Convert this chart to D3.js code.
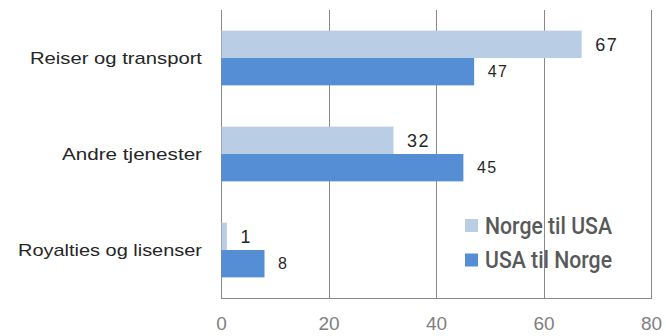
<!DOCTYPE html>
<html><head><meta charset="utf-8">
<script src="https://cdn.jsdelivr.net/npm/d3@7"></script>
<style>body{margin:0;background:#fff}svg{display:block}</style>
</head><body>
<script>
const categories = ["Reiser og transport", "Andre tjenester", "Royalties og lisenser"];
const seriesNames = ["Norge til USA", "USA til Norge"];
const norgeTilUSA = [67, 32, 1];
const usaTilNorge = [47, 45, 8];
const xTicks = [0, 20, 40, 60, 80];

const W = 666, H = 336;
const m = {left: 221, right: 15, top: 10, bottom: 38};
const svg = d3.select("body").append("svg").attr("width", W).attr("height", H);

const x = d3.scaleLinear().domain([0, 80]).range([m.left, W - m.right]);
const y = d3.scaleBand().domain(categories).range([m.top, H - m.bottom]).paddingInner(0.43).paddingOuter(0.215);
const sub = d3.scaleBand().domain(seriesNames).range([0, y.bandwidth()]);
const colors = {"Norge til USA": "#B9CDE5", "USA til Norge": "#558ED5"};
const labelSize = {"Norge til USA": 18, "USA til Norge": 16};

// gridlines
const grid = svg.append("g");
grid.selectAll("line").data(xTicks).join("line")
  .attr("x1", d => Math.round(x(d)) + 0.5).attr("x2", d => Math.round(x(d)) + 0.5)
  .attr("y1", m.top).attr("y2", H - m.bottom)
  .attr("stroke", "#898989").attr("stroke-width", 1);
svg.append("line").attr("x1", x(0)).attr("x2", Math.round(x(80)) + 1)
  .attr("y1", H - m.bottom + 0.5).attr("y2", H - m.bottom + 0.5)
  .attr("stroke", "#898989");

// x axis labels
const xAxis = d3.axisBottom(x).tickValues(xTicks).tickSize(0).tickPadding(0);
const gx = svg.append("g").attr("transform", `translate(0,${H - m.bottom})`).call(xAxis);
gx.select(".domain").remove();
gx.selectAll("text").attr("y", 25).attr("dy", "0.35em")
  .attr("font-family", "Liberation Sans, Arial, sans-serif").attr("font-size", 19)
  .attr("fill", "#7f7f7f");

// bars
const data = [];
categories.forEach((c, i) => {
  data.push({cat: c, s: seriesNames[0], v: norgeTilUSA[i]});
  data.push({cat: c, s: seriesNames[1], v: usaTilNorge[i]});
});
svg.append("g").selectAll("rect").data(data).join("rect")
  .attr("x", x(0) + 0.5)
  .attr("y", d => y(d.cat) + sub(d.s))
  .attr("width", d => x(d.v) - x(0))
  .attr("height", sub.bandwidth())
  .attr("fill", d => colors[d.s]);

// data labels
svg.append("g").selectAll("text").data(data).join("text")
  .attr("x", d => x(d.v) + 14)
  .attr("y", d => y(d.cat) + sub(d.s) + sub.bandwidth() / 2)
  .attr("dy", "0.35em")
  .attr("font-family", "Liberation Sans, Arial, sans-serif")
  .attr("font-size", d => labelSize[d.s])
  .attr("letter-spacing", 1.5)
  .attr("fill", "#262626")
  .text(d => d.v);

// category labels
const catW = {"Reiser og transport": 172, "Andre tjenester": 140, "Royalties og lisenser": 184};
svg.append("g").selectAll("text").data(categories).join("text")
  .attr("x", 202).attr("y", d => y(d) + y.bandwidth() / 2).attr("dy", "0.35em")
  .attr("text-anchor", "end")
  .attr("font-family", "Liberation Sans, Arial, sans-serif").attr("font-size", 17)
  .attr("fill", "#262626")
  .attr("textLength", d => catW[d]).attr("lengthAdjust", "spacingAndGlyphs")
  .text(d => d);

// legend
const lg = svg.append("g");
seriesNames.forEach((s, i) => {
  const cy = 225.5 + i * 34.5;
  lg.append("rect").attr("x", 465).attr("y", cy - 6.5).attr("width", 13).attr("height", 13).attr("fill", colors[s]);
  lg.append("text").attr("x", 485).attr("y", cy).attr("dy", "0.36em")
    .attr("font-family", "Roboto, sans-serif")
    .attr("font-size", 23).attr("font-weight", 500).attr("fill", "#595959")
    .attr("textLength", 127).attr("lengthAdjust", "spacingAndGlyphs")
    .text(s);
});
</script>
</body></html>
